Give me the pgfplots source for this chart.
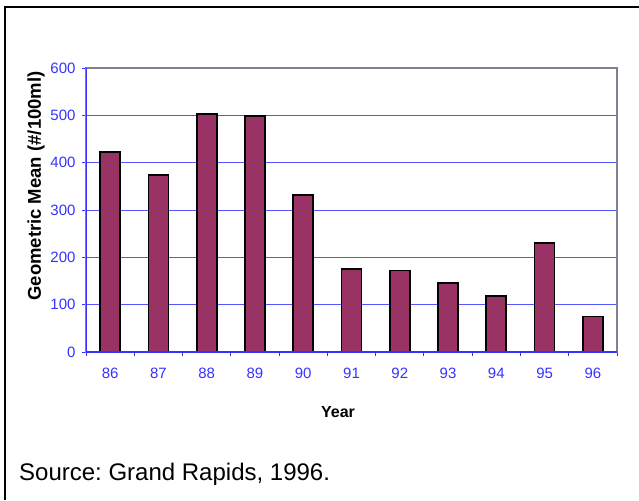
\documentclass[border=0pt]{standalone}
\usepackage{pgfplots}
\pgfplotsset{compat=1.18}
\usepackage{fontspec}
\setmainfont{Liberation Sans}
\frenchspacing
\definecolor{barc}{HTML}{993366}
\definecolor{axblue}{HTML}{3333FF}
\definecolor{gridb}{HTML}{5555FF}
\definecolor{frameg}{HTML}{808090}
\begin{document}
\begin{tikzpicture}[x=1pt,y=1pt]
\path[use as bounding box] (0,0) rectangle (639,-500);
\draw[black, line width=1.3pt] (5,-500) -- (5,-7) -- (639,-7);
\begin{axis}[
 at={(86pt,-352pt)}, anchor=south west, scale only axis, width=531pt, height=284pt,
 xmin=-0.5, xmax=10.5, ymin=0, ymax=600,
 ytick={0,100,...,600},
 xtick={0,...,10}, xticklabels={86,87,88,89,90,91,92,93,94,95,96},
 minor xtick={-0.5,0.5,...,10.5},
 xtick pos=bottom, ytick pos=left,
 major x tick style={draw=none},
 tick align=outside, major tick length=4pt, minor tick length=4pt,
 tick style={axblue, line width=1pt},
 ymajorgrids, grid style={gridb, line width=1pt},
 axis line style={frameg, line width=1.2pt},
 ticklabel style={text=axblue, font=\fontsize{15}{15}\selectfont},
 xticklabel style={yshift=-8pt},
 yticklabel style={xshift=-3pt},
 /pgf/number format/assume math mode=true,
]
\addplot[ybar, bar width=20pt, fill=barc, draw=black, line width=1.8pt] coordinates {
(0,423) (1,374) (2,503) (3,499) (4,331) (5,176) (6,172) (7,145) (8,119) (9,230) (10,75)};
\draw[axblue, line width=1.3pt] (rel axis cs:0,0)--(rel axis cs:0,1);
\draw[axblue, line width=1.3pt] (rel axis cs:0,0)--(rel axis cs:1,0);
\end{axis}
\node[font=\bfseries\fontsize{16}{16}\selectfont] at (338,-412) {Year};
\node[rotate=90, font=\bfseries\fontsize{18.5}{18.5}\selectfont] at (36,-186) {Geometric Mean (\#/100ml)};
\node[anchor=west, font=\fontsize{24}{24}\selectfont, inner sep=0pt] at (19,-474) {Source: Grand Rapids, 1996.};
\end{tikzpicture}
\end{document}
